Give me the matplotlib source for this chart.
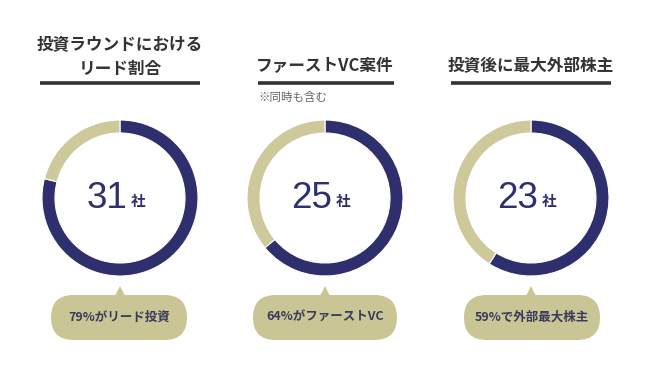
import matplotlib
matplotlib.use("Agg")
import matplotlib.pyplot as plt
from matplotlib.patches import FancyBboxPatch, Polygon

plt.rcParams['font.family'] = ['Noto Sans CJK JP', 'DejaVu Sans']

titles = ["投資ラウンドにおける\nリード割合", "ファーストVC案件", "投資後に最大外部株主"]
subtitles = ["", "※同時も含む", ""]
counts = [31, 25, 23]
unit = "社"
percents = [79, 64, 59]
callouts = ["79%がリード投資", "64%がファーストVC", "59%で外部最大株主"]

DARK = "#2e2f6c"
GOLD = "#cdc99b"
BUBBLE = "#c9c595"
W, H = 650, 380

fig = plt.figure(figsize=(6.5, 3.8), dpi=100)
ax = fig.add_axes([0, 0, 1, 1])

centers_x = [120, 325, 531]
cy = H - 198
R = 78
ring = 13

for i in range(3):
    cx = centers_x[i]
    p = percents[i]
    ax.pie([p, 100 - p], colors=[DARK, GOLD], startangle=90, counterclock=False,
           center=(cx, cy), radius=R,
           wedgeprops=dict(width=ring, edgecolor="white", linewidth=0.8))
    # number
    ax.text(cx + 7, cy, str(counts[i]), ha="right", va="center", fontsize=26.5,
            color=DARK, family=['Liberation Sans', 'DejaVu Sans'])
    ax.text(cx + 11, cy - 3, unit, ha="left", va="center", fontsize=10.5,
            color=DARK, fontweight="bold")
    # title
    if "\n" in titles[i]:
        ax.text(cx, H - 57, titles[i], ha="center", va="center", fontsize=12,
                fontweight="bold", color="#333333", linespacing=1.35)
    else:
        ax.text(cx, H - 66, titles[i], ha="center", va="center", fontsize=12,
                fontweight="bold", color="#333333")
    # underline
    ax.plot([cx - 80, cx + 80] if i != 1 else [cx - 67, cx + 69], [H - 83, H - 83],
            color="#333333", lw=2.6, solid_capstyle="butt")
    if subtitles[i]:
        ax.text(cx - 67, H - 97, subtitles[i], ha="left", va="center", fontsize=8.3,
                color="#666666")
    # bubble
    bw = [136, 144, 136][i]
    bxc = [119, 325, 532][i]
    bh = 45
    by = H - 340
    box = FancyBboxPatch((bxc - bw / 2, by), bw, bh,
                         boxstyle=f"round,pad=0,rounding_size={bh/2}",
                         facecolor=BUBBLE, edgecolor="none")
    ax.add_patch(box)
    tip = Polygon([[cx - 5, by + bh - 1], [cx + 5, by + bh - 1], [cx, by + bh + 9]],
                  closed=True, facecolor=BUBBLE, edgecolor="none")
    ax.add_patch(tip)
    ax.text(bxc, by + bh / 2, callouts[i], ha="center", va="center", fontsize=9,
            fontweight="bold", color="#3a3a5c")

ax.set_xlim(0, W)
ax.set_ylim(0, H)
ax.set_aspect("equal")
ax.axis("off")
fig.savefig("out.png", dpi=100, facecolor="white")
